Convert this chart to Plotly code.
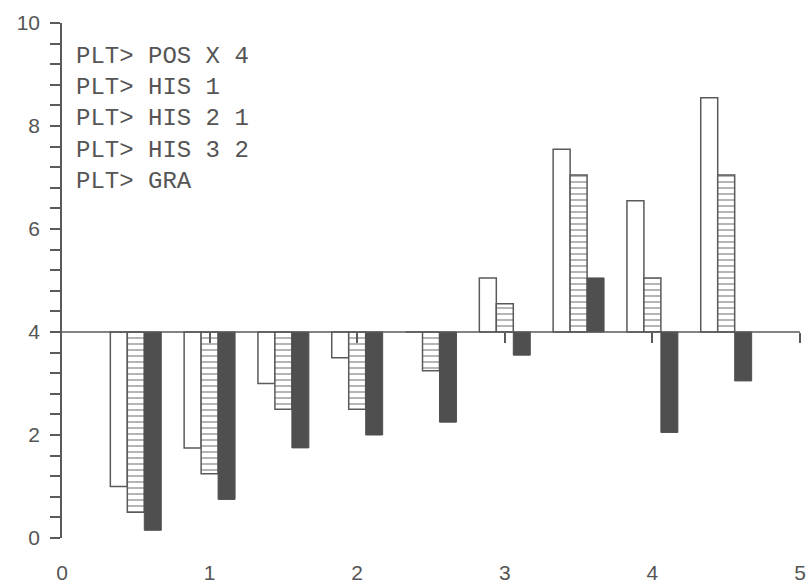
import plotly.graph_objects as go

# ---- data ----
x_pos = [0.5, 1.0, 1.5, 2.0, 2.5, 3.0, 3.5, 4.0, 4.5]
his1 = [1.0, 1.75, 3.0, 3.5, 4.0, 5.05, 7.55, 6.55, 8.55]
his2 = [0.5, 1.25, 2.5, 2.5, 3.25, 4.55, 7.05, 5.05, 7.05]
his3 = [0.15, 0.75, 1.75, 2.0, 2.25, 3.55, 5.05, 2.05, 3.05]
pos_x = 4.0  # baseline / x-axis position
x_ticks = [0, 1, 2, 3, 4, 5]
x_axis_ticks = [1, 2, 3, 4, 5]
y_ticks = [0, 2, 4, 6, 8, 10]
commands = ["PLT> POS X 4", "PLT> HIS 1", "PLT> HIS 2 1", "PLT> HIS 3 2", "PLT> GRA"]

line_col = "#5a5a5a"
dark = "#4f4f4f"

fig = go.Figure()
fig.add_trace(go.Bar(
    x=x_pos, y=[v - pos_x for v in his1], base=pos_x,
    marker=dict(color="white", line=dict(color=line_col, width=1.5)),
    name="HIS 1"))
fig.add_trace(go.Bar(
    x=x_pos, y=[v - pos_x for v in his2], base=pos_x,
    marker=dict(color="white", line=dict(color=line_col, width=1.5),
                pattern=dict(shape="-", fgcolor=line_col, bgcolor="white",
                             size=6, solidity=0.3, fillmode="overlay")),
    name="HIS 2"))
fig.add_trace(go.Bar(
    x=x_pos, y=[v - pos_x for v in his3], base=pos_x,
    marker=dict(color=dark, line=dict(color=dark, width=1)),
    name="HIS 3"))
# invisible trace to activate the axis drawn at y = pos_x
fig.add_trace(go.Scatter(x=[0, 5], y=[pos_x, pos_x], xaxis="x2", mode="none",
                         showlegend=False, hoverinfo="skip"))

fig.update_layout(
    width=807, height=587,
    margin=dict(l=62, r=7, t=23, b=49),
    paper_bgcolor="white", plot_bgcolor="white",
    showlegend=False,
    barmode="group", bargap=0.31, bargroupgap=0,
    font=dict(family="Liberation Sans, Arial, sans-serif", color="#555555", size=21),
    xaxis=dict(range=[0, 5], tickvals=x_ticks, showline=False, ticks="",
               showgrid=False, zeroline=False, ticklabelstandoff=20,
               automargin=False),
    xaxis2=dict(range=[0, 5], overlaying="x", anchor="free", position=pos_x / 10,
                tickvals=x_axis_ticks, showticklabels=False, ticks="outside",
                ticklen=10, tickwidth=1.5, tickcolor=line_col,
                showline=False, showgrid=False, zeroline=False, automargin=False),
    yaxis=dict(range=[0, 10], tickvals=y_ticks, showline=True, linecolor=line_col,
               linewidth=1.5, ticks="outside", ticklen=10, tickwidth=1.5,
               tickcolor=line_col, showgrid=False, zeroline=False,
               ticklabelstandoff=6, automargin=False,
               minor=dict(dtick=0.4, ticks="outside", ticklen=10, tickwidth=1.5,
                          tickcolor=line_col, showgrid=False)),
)

# baseline line at y = pos_x (slightly extended left of the y axis)
fig.add_shape(type="line", xref="paper", yref="y", x0=-0.016, x1=1.0,
              y0=pos_x, y1=pos_x, line=dict(color=line_col, width=1.5))

fig.add_annotation(
    xref="paper", yref="y", x=0.016, y=9.66, xanchor="left", yanchor="top",
    align="left", showarrow=False,
    text="<br>".join(commands),
    font=dict(family="Courier New, Liberation Mono, monospace", size=24, color="#555555"))

fig.write_html("out.html")
